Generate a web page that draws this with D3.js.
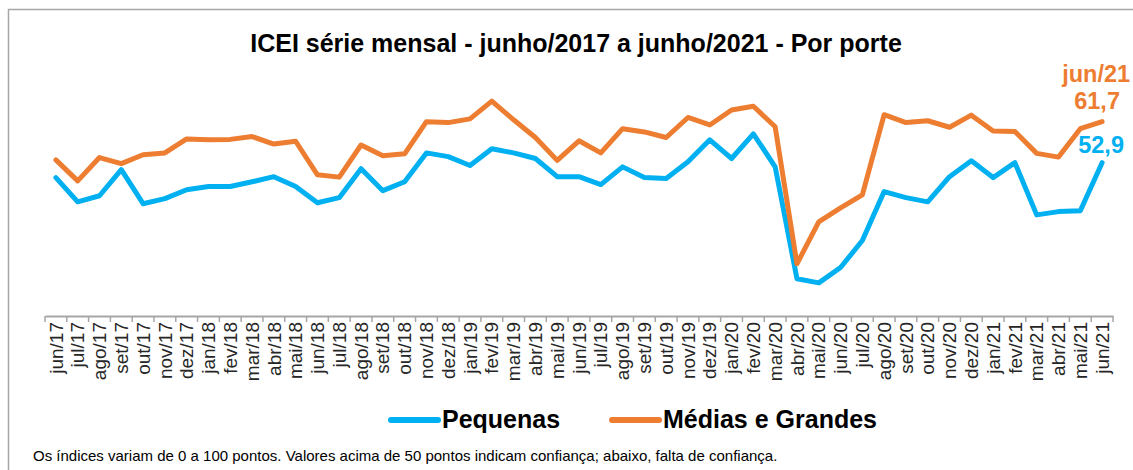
<!DOCTYPE html>
<html>
<head>
<meta charset="utf-8">
<script src="https://cdn.jsdelivr.net/npm/d3@7"></script>
<style>
  body { margin: 0; background: #fff; }
  svg { font-family: "Liberation Sans", Arial, sans-serif; }
</style>
</head>
<body>
<div id="grafico"></div>
<script>
// dados do grafico
const meses = ["jun/17","jul/17","ago/17","set/17","out/17","nov/17","dez/17",
  "jan/18","fev/18","mar/18","abr/18","mai/18","jun/18","jul/18","ago/18","set/18","out/18","nov/18","dez/18",
  "jan/19","fev/19","mar/19","abr/19","mai/19","jun/19","jul/19","ago/19","set/19","out/19","nov/19","dez/19",
  "jan/20","fev/20","mar/20","abr/20","mai/20","jun/20","jul/20","ago/20","set/20","out/20","nov/20","dez/20",
  "jan/21","fev/21","mar/21","abr/21","mai/21","jun/21"]

const pequenas = [49.7,44.5,45.8,51.4,44.1,45.2,47.1,
  47.8,47.8,48.8,49.9,47.8,44.3,45.4,51.6,46.9,48.8,55.0,54.2,
  52.3,55.9,55.0,53.8,49.9,49.9,48.2,52.0,49.7,49.5,53.1,57.8,
  53.8,59.1,52.0,28.0,27.1,30.4,36.2,46.7,45.4,44.5,49.9,53.3,
  49.7,52.9,41.7,42.4,42.6,52.9]

const mediasGrandes = [53.5,49.0,54.0,52.7,54.6,55.0,58.0,
  57.8,57.9,58.5,56.9,57.5,50.3,49.8,56.7,54.4,54.8,61.7,61.5,
  62.3,66.1,62.1,58.3,53.4,57.6,55.0,60.2,59.5,58.3,62.6,61.0,
  64.2,65.0,60.6,31.2,40.2,43.2,46.0,63.2,61.5,61.9,60.5,63.1,
  59.7,59.6,54.9,54.1,60.2,61.7]

const series = ["Pequenas", "Médias e Grandes"]
const cores = ["#00B0F0", "#ED7D31"]

const largura = 1133
const altura = 470

// escalas
var xScale = d3.scaleBand()
    .domain(meses)
    .range([45, 1113])
    .padding(0)

var yScale = d3.scaleLinear()
    .domain([20, 70])
    .range([316, 83])

var svg = d3.select("#grafico")
  .append("svg")
    .attr("width", largura)
    .attr("height", altura)

// moldura
svg.append("rect")
    .attr("x", 8.5)
    .attr("y", 9.5)
    .attr("width", largura + 20)
    .attr("height", altura + 20)
    .attr("fill", "none")
    .attr("stroke", "#a6a6a6")
    .attr("stroke-width", 1.5)

// titulo
svg.append("text")
    .attr("x", 576)
    .attr("y", 52)
    .attr("text-anchor", "middle")
    .attr("font-size", "25px")
    .attr("font-weight", "bold")
    .attr("fill", "#000")
    .text("ICEI série mensal - junho/2017 a junho/2021 - Por porte")

// eixo x
var eixo = svg.append("g")
    .attr("class", "x-axis")
    .attr("transform", "translate(0,316)")
    .call(d3.axisBottom(xScale).tickSize(0).tickPadding(6))

eixo.select(".domain")
    .attr("stroke", "#a6a6a6")
    .attr("stroke-width", 2)

eixo.selectAll("text")
    .attr("transform", "rotate(-90)")
    .attr("x", -6)
    .attr("y", 0)
    .attr("dy", "0.35em")
    .style("text-anchor", "end")
    .style("font-size", "19px")
    .style("font-family", "Liberation Sans, Arial, sans-serif")
    .attr("fill", "#262626")

// marcas entre as categorias
var limites = meses.map(function(d) { return xScale(d); }).concat([xScale.range()[1]])
eixo.selectAll(".marca")
    .data(limites)
    .enter()
    .append("line")
    .attr("class", "marca")
    .attr("x1", function(d) { return d; })
    .attr("x2", function(d) { return d; })
    .attr("y1", 0)
    .attr("y2", 6)
    .attr("stroke", "#a6a6a6")
    .attr("stroke-width", 1.5)

// linhas
var linha = d3.line()
    .x(function(d, i) { return xScale(meses[i]) + xScale.bandwidth() / 2; })
    .y(function(d) { return yScale(d); })

;[pequenas, mediasGrandes].forEach(function(valores, k) {
  svg.append("path")
      .datum(valores)
      .attr("fill", "none")
      .attr("stroke", cores[k])
      .attr("stroke-width", 5)
      .attr("stroke-linejoin", "round")
      .attr("stroke-linecap", "round")
      .attr("d", linha)
})

// rotulos do ultimo ponto
var ultimo = meses[meses.length - 1]
var xUltimo = xScale(ultimo) + xScale.bandwidth() / 2

svg.append("text")
    .attr("x", xUltimo - 6)
    .attr("y", 82)
    .attr("text-anchor", "middle")
    .attr("font-size", "23.5px")
    .attr("font-weight", "bold")
    .attr("fill", cores[1])
    .text(ultimo)

svg.append("text")
    .attr("x", xUltimo - 5)
    .attr("y", 109)
    .attr("text-anchor", "middle")
    .attr("font-size", "23.5px")
    .attr("font-weight", "bold")
    .attr("fill", cores[1])
    .text(d3.format(".1f")(mediasGrandes[mediasGrandes.length - 1]).replace(".", ","))

svg.append("text")
    .attr("x", xUltimo - 1)
    .attr("y", 153)
    .attr("text-anchor", "middle")
    .attr("font-size", "23.5px")
    .attr("font-weight", "bold")
    .attr("fill", cores[0])
    .text(d3.format(".1f")(pequenas[pequenas.length - 1]).replace(".", ","))

// legenda
var legendaX = [388, 609]
var legenda = svg.append("g").attr("class", "legenda")

series.forEach(function(nome, k) {
  legenda.append("line")
      .attr("x1", legendaX[k] + 3)
      .attr("x2", legendaX[k] + 50)
      .attr("y1", 420)
      .attr("y2", 420)
      .attr("stroke", cores[k])
      .attr("stroke-width", 6)
      .attr("stroke-linecap", "round")

  legenda.append("text")
      .attr("x", legendaX[k] + 54)
      .attr("y", 428)
      .attr("font-size", "25px")
      .attr("font-weight", "bold")
      .attr("fill", "#000")
      .text(nome)
})

// nota de rodape
svg.append("text")
    .attr("x", 33)
    .attr("y", 461)
    .attr("font-size", "15px")
    .attr("fill", "#000")
    .text("Os índices variam de 0 a 100 pontos. Valores acima de 50 pontos indicam confiança; abaixo, falta de confiança.")
</script>
</body>
</html>
